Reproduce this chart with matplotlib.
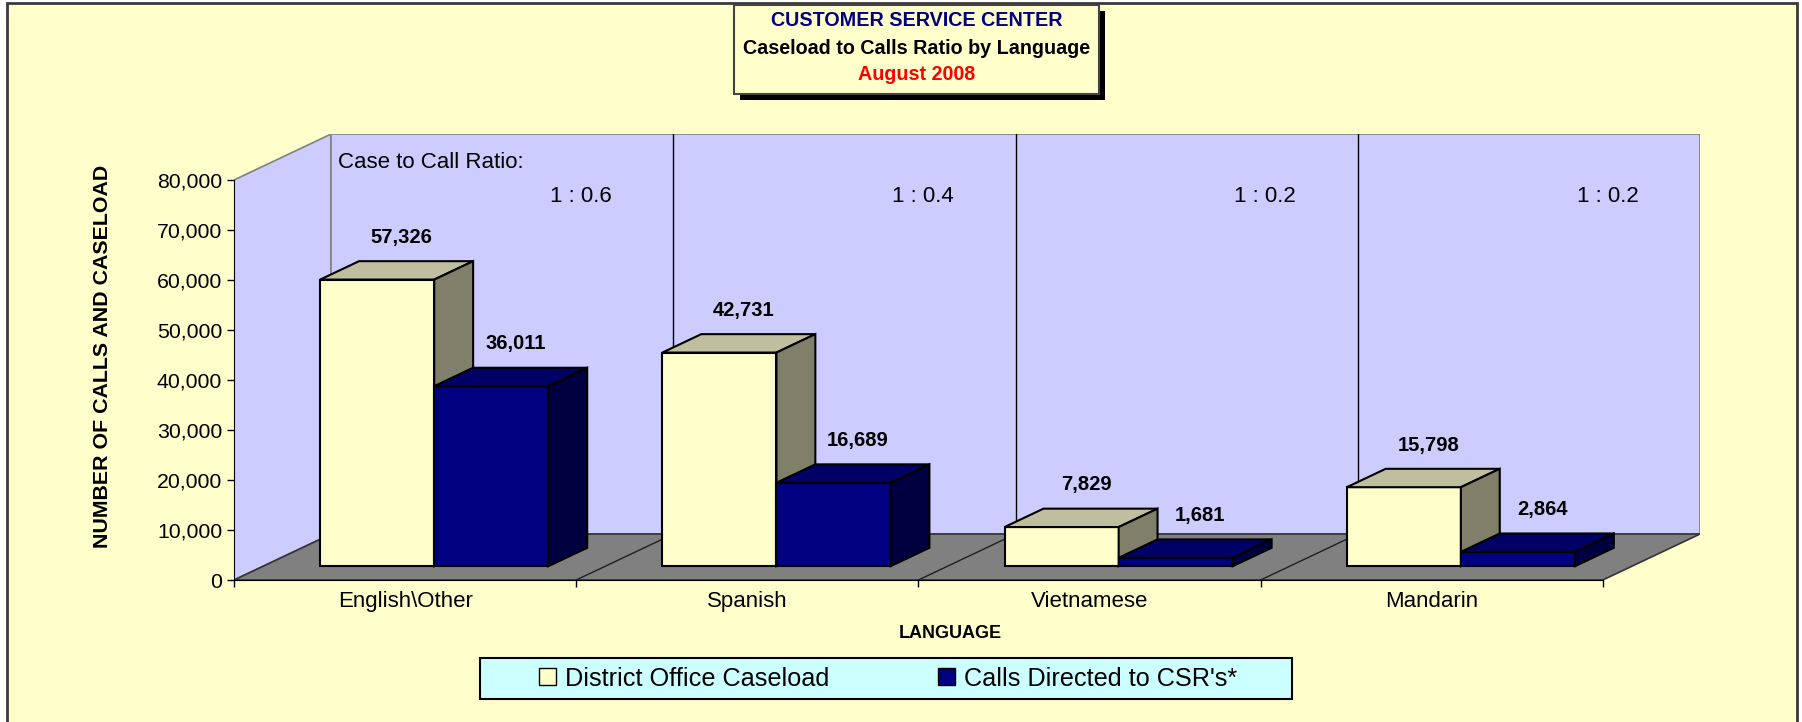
import numpy as np
import matplotlib.pyplot as plt
from matplotlib.patches import Polygon, Rectangle, Patch

#daten aus dem bild
sprachen = ['English\\Other', 'Spanish', 'Vietnamese', 'Mandarin']
caseload = [57326, 42731, 7829, 15798]
calls = [36011, 16689, 1681, 2864]
y_ticks = np.arange(0, 80001, 10000)
serien = ['District Office Caseload', "Calls Directed to CSR's*"]

plt.rcParams['font.family'] = ['Liberation Sans', 'DejaVu Sans']

W, H = 1802, 722
fig = plt.figure(figsize=(W / 100, H / 100), dpi=100)
fig.patch.set_facecolor('white')
#gelber hintergrund mit rahmen
fig.add_artist(Rectangle((7 / W, -0.02), 1790 / W, 1.02 - 3 / H, transform=fig.transFigure,
                         facecolor='#FFFFCC', edgecolor='#3a3a3a', lw=2, zorder=0))

n = len(sprachen)
ymax = 80000
DX = 0.284   #tiefe in kategorie einheiten
DY = 9200    #tiefe in werte einheiten

ax = fig.add_axes([234 / W, 142 / H, 1466 / W, 446 / H])
ax.set_xlim(0, n + DX)
ax.set_ylim(0, ymax + DY)
ax.patch.set_alpha(0)

#waende und boden
wand = '#CCCCFF'
ax.add_patch(Polygon([(0, 0), (0, ymax), (DX, ymax + DY), (DX, DY)],
                     facecolor=wand, edgecolor='#808080', lw=1.2, zorder=1))
ax.add_patch(Polygon([(DX, DY), (DX, ymax + DY), (n + DX, ymax + DY), (n + DX, DY)],
                     facecolor=wand, edgecolor='#808080', lw=1.2, zorder=1))
ax.add_patch(Polygon([(0, 0), (n, 0), (n + DX, DY), (DX, DY)],
                     facecolor='#808080', edgecolor='#333333', lw=1.2, zorder=1))
for i in range(1, n):
    ax.plot([i + DX, i + DX], [DY, ymax + DY], color='black', lw=1, zorder=1.5)
    ax.plot([i, i + DX], [0, DY], color='#202020', lw=1, zorder=1.5)


def quader(x0, w, v, vorne, oben, seite):
    #balken zwischen tiefe 0.3 und 0.7
    ox0, oy0 = 0.3 * DX, 0.3 * DY
    ox1, oy1 = 0.7 * DX, 0.7 * DY
    kw = dict(edgecolor='black', lw=1.5, joinstyle='miter', zorder=2)
    ax.add_patch(Polygon([(x0 + ox0, oy0), (x0 + w + ox0, oy0), (x0 + w + ox0, v + oy0), (x0 + ox0, v + oy0)],
                         facecolor=vorne, **kw))
    ax.add_patch(Polygon([(x0 + ox0, v + oy0), (x0 + w + ox0, v + oy0), (x0 + w + ox1, v + oy1), (x0 + ox1, v + oy1)],
                         facecolor=oben, **kw))
    ax.add_patch(Polygon([(x0 + w + ox0, oy0), (x0 + w + ox1, oy1), (x0 + w + ox1, v + oy1), (x0 + w + ox0, v + oy0)],
                         facecolor=seite, **kw))
    ax.text(x0 + w / 2 + 0.5 * DX + 0.015, v + 0.5 * DY + 6600, f'{v:,}',
            ha='center', va='center', fontsize=14.5, fontweight='bold', zorder=3)


w = 1 / 3
for i in range(n):
    quader(i + 1 / 6, w, caseload[i], '#FFFFCC', '#BFBF9F', '#80806A')
    quader(i + 1 / 2, w, calls[i], '#000080', '#000066', '#000040')

#verhaeltnis texte an der rueckwand
ax.text(DX + 0.02, 83400, 'Case to Call Ratio:', ha='left', va='center', fontsize=16, zorder=3)
for i in range(n):
    r = round(calls[i] / caseload[i], 1)
    ax.text(i + 1 + DX - 0.18, 76800, f'1 : {r}', ha='right', va='center', fontsize=16, zorder=3)

#achsen
for s in ['top', 'right']:
    ax.spines[s].set_visible(False)
ax.spines['left'].set_bounds(0, ymax)
ax.spines['bottom'].set_bounds(0, n)
ax.spines['left'].set_zorder(2.5)
ax.spines['bottom'].set_zorder(2.5)
ax.set_yticks(y_ticks)
ax.set_yticklabels([f'{v:,}' for v in y_ticks])
ax.set_xticks(range(n + 1))
ax.set_xticklabels([])
ax.set_xticks(np.arange(n) + 0.5, minor=True)
ax.set_xticklabels(sprachen, minor=True)
ax.tick_params(axis='y', direction='out', length=5, width=1, pad=3.5, labelsize=15.3)
ax.tick_params(axis='x', which='major', direction='out', length=5, width=1)
ax.tick_params(axis='x', which='minor', length=0, pad=8, labelsize=16)

fig.text(103 / W, 1 - 356 / H, 'NUMBER OF CALLS AND CASELOAD', rotation=90,
         ha='center', va='center', fontsize=15.4, fontweight='bold')
fig.text(950 / W, 1 - 634 / H, 'LANGUAGE', ha='center', va='center', fontsize=13, fontweight='bold')

#titel box mit schatten
fig.add_artist(Rectangle((740 / W, 1 - 100 / H), 365 / W, 89 / H, transform=fig.transFigure,
                         facecolor='black', edgecolor='none', zorder=1.5))
fig.add_artist(Rectangle((734 / W, 1 - 94 / H), 365 / W, 89 / H, transform=fig.transFigure,
                         facecolor='#FFFFCC', edgecolor='#444444', lw=1.5, zorder=2))
tx = 916.5 / W
fig.text(tx, 1 - 21 / H, 'CUSTOMER SERVICE CENTER', ha='center', va='center',
         fontsize=14.2, fontweight='bold', color='#000080')
fig.text(tx, 1 - 49 / H, 'Caseload to Calls Ratio by Language', ha='center', va='center',
         fontsize=14.2, fontweight='bold', color='black')
fig.text(tx, 1 - 75 / H, 'August 2008', ha='center', va='center',
         fontsize=14.2, fontweight='bold', color='#FF0000')

#legende
fig.add_artist(Rectangle((480 / W, 1 - 699 / H), 812 / W, 41 / H, transform=fig.transFigure,
                         facecolor='#CCFFFF', edgecolor='black', lw=1.5, zorder=4))
griffe = [Patch(facecolor='#FFFFCC', edgecolor='black'), Patch(facecolor='#000080', edgecolor='black')]
leg = fig.legend(handles=griffe, labels=serien, loc='center', bbox_to_anchor=(888 / W, 1 - 678.5 / H),
                 ncol=2, frameon=False, fontsize=18.2, handlelength=0.67, handleheight=0.67,
                 handletextpad=0.35, columnspacing=4.3)
leg.set_zorder(5)

fig.savefig('out.png', dpi=100)
